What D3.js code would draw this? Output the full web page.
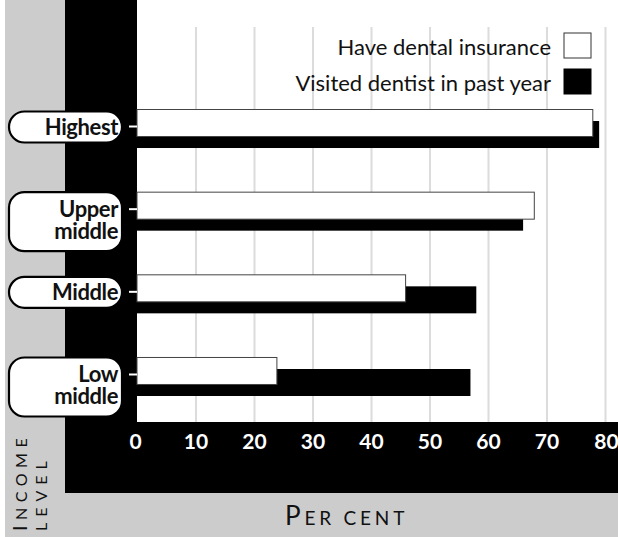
<!DOCTYPE html>
<html>
<head>
<meta charset="utf-8">
<script src="https://cdn.jsdelivr.net/npm/d3@7"></script>
<style>
  html, body { margin: 0; padding: 0; background: #fff; }
  svg { display: block; }
  text { font-family: Lato, "Open Sans", sans-serif; }
</style>
</head>
<body>
<svg id="chart" width="618" height="537"></svg>
<script>
// ---- data ----
const categories = ["Highest", "Upper middle", "Middle", "Low middle"];
const categoryLines = [["Highest"], ["Upper", "middle"], ["Middle"], ["Low", "middle"]];
const insurance = [78, 68, 46, 24];   // Have dental insurance
const visited = [79, 66, 58, 57];     // Visited dentist in past year
const seriesNames = ["Have dental insurance", "Visited dentist in past year"];
const tickValues = [0, 10, 20, 30, 40, 50, 60, 70, 80];

// ---- layout ----
const W = 618, H = 537;
const svg = d3.select("#chart");

const plotL = 137, plotR = 618, plotT = 0, plotB = 422;
const x = d3.scaleLinear().domain([0, 80]).range([137, 605]);
const y = d3.scaleBand().domain(categories).range([109, 396]).paddingInner(0.528).paddingOuter(0);
const bw = y.bandwidth();
const barH = 27;

// backgrounds
svg.append("rect").attr("x", 5).attr("y", 0).attr("width", 60).attr("height", H).attr("fill", "#cccccc");
svg.append("rect").attr("x", 5).attr("y", 493).attr("width", W - 5).attr("height", H - 493).attr("fill", "#cccccc");
svg.append("rect").attr("x", 65).attr("y", 0).attr("width", W - 65).attr("height", 493).attr("fill", "#000");
svg.append("rect").attr("x", plotL).attr("y", plotT).attr("width", plotR - plotL).attr("height", plotB - plotT).attr("fill", "#fff");

// gridlines
const grid = svg.append("g").attr("transform", `translate(0,${plotB})`)
  .call(d3.axisBottom(x).tickValues(tickValues.slice(1)).tickSize(-(plotB - 27)).tickFormat(""));
grid.select(".domain").remove();
grid.selectAll(".tick line").attr("stroke", "#dcdcdc").attr("stroke-width", 2);

// axis tick labels
const ax = svg.append("g").attr("transform", `translate(0,${plotB})`)
  .call(d3.axisBottom(x).tickValues(tickValues).tickSize(0).tickPadding(0));
ax.select(".domain").remove();
ax.selectAll(".tick text")
  .attr("fill", "#fff").attr("font-size", 21).attr("font-weight", 700)
  .attr("dy", 0).attr("y", 27)
  .attr("dx", (d) => d === 0 ? -2 : (d === 80 ? 1 : 0));

// bars: visited (black) behind, insurance (white) in front
const groups = svg.append("g");
groups.selectAll(".vis").data(categories).join("rect")
  .attr("class", "vis")
  .attr("x", x(0))
  .attr("y", (d) => y(d) + bw - barH)
  .attr("width", (d, i) => x(visited[i]) - x(0))
  .attr("height", barH)
  .attr("fill", "#000");
groups.selectAll(".ins").data(categories).join("rect")
  .attr("class", "ins")
  .attr("x", x(0))
  .attr("y", (d) => y(d) + 0.5)
  .attr("width", (d, i) => x(insurance[i]) - x(0) - 0.5)
  .attr("height", barH)
  .attr("fill", "#fff")
  .attr("stroke", "#444")
  .attr("stroke-width", 1);

// y ticks (white small marks)
svg.append("g").selectAll("line").data(categories).join("line")
  .attr("x1", 129).attr("x2", 137)
  .attr("y1", (d) => y(d) + bw / 2 - 2)
  .attr("y2", (d) => y(d) + bw / 2 - 2)
  .attr("stroke", "#fff").attr("stroke-width", 2);

// category pills
const pills = svg.append("g");
categories.forEach((c, i) => {
  const lines = categoryLines[i];
  const top = y(c) + (lines.length === 1 ? 2.5 : 0.5);
  const h = lines.length === 1 ? 31 : 59;
  pills.append("rect")
    .attr("x", 9).attr("y", top).attr("width", 113).attr("height", h)
    .attr("rx", 15.5).attr("ry", 15.5)
    .attr("fill", "#fff").attr("stroke", "#000").attr("stroke-width", 2.2);
  const t = pills.append("text")
    .attr("text-anchor", "end").attr("font-weight", 700).attr("font-size", 22)
    .attr("letter-spacing", -0.4).attr("fill", "#111");
  lines.forEach((ln, j) => {
    t.append("tspan").attr("x", 118)
      .attr("y", lines.length === 1 ? top + 23 : top + 24.5 + j * 22)
      .text(ln);
  });
});

// legend
const legend = svg.append("g");
const legY = [33, 69];
const legFill = ["#fff", "#000"];
seriesNames.forEach((s, i) => {
  legend.append("rect").attr("x", 564).attr("y", legY[i]).attr("width", 27).attr("height", 25)
    .attr("fill", legFill[i]).attr("stroke", i === 0 ? "#333" : "#000").attr("stroke-width", 1);
  legend.append("text").attr("x", 551).attr("y", legY[i] + 22)
    .attr("text-anchor", "end").attr("font-size", 22).attr("fill", "#111").text(s);
});

// x axis title: "Per cent" in small caps
const xt = svg.append("text").attr("x", 285).attr("y", 525).attr("fill", "#111").attr("letter-spacing", 3.8);
xt.append("tspan").attr("font-size", 26).text("P");
xt.append("tspan").attr("font-size", 19).text("ER CENT");

// y axis title: "Income level" rotated, small caps
const yt1 = svg.append("text").attr("transform", "translate(27,531) rotate(-90)").attr("fill", "#111").attr("letter-spacing", 5.5);
yt1.append("tspan").attr("font-size", 20).text("I");
yt1.append("tspan").attr("font-size", 16).text("NCOME");
const yt2 = svg.append("text").attr("transform", "translate(47,531) rotate(-90)").attr("fill", "#111").attr("letter-spacing", 6)
  .attr("font-size", 16).text("LEVEL");
</script>
</body>
</html>
